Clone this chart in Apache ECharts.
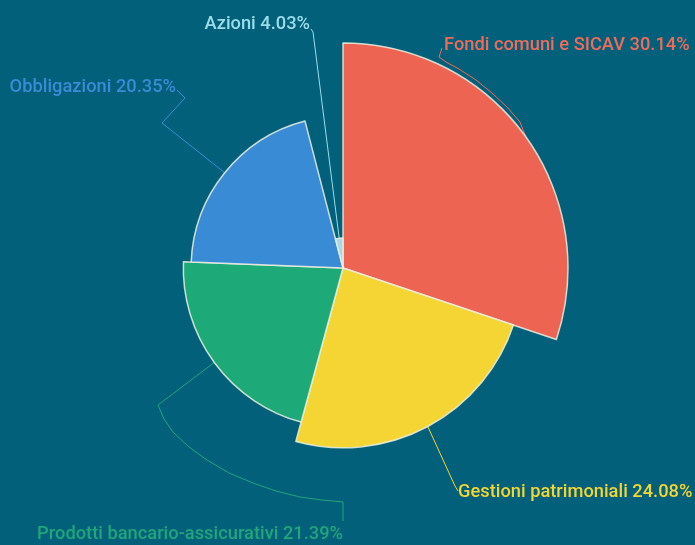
<!DOCTYPE html>
<html>
<head>
<meta charset="utf-8">
<script src="https://cdn.jsdelivr.net/npm/echarts@6/dist/echarts.min.js"></script>
<style>
  html, body { margin: 0; padding: 0; background: #03607a; }
  #chart { width: 695px; height: 545px; }
</style>
</head>
<body>
<div id="chart"></div>
<script>
// Portfolio composition by instrument (percent of total)
const categories = [
  'Fondi comuni e SICAV',
  'Gestioni patrimoniali',
  'Prodotti bancario-assicurativi',
  'Obbligazioni',
  'Azioni'
];
const shares = [30.14, 24.08, 21.39, 20.35, 4.03];

// Styling
const sliceColors = ['#ED6453', '#F4D534', '#1DAA78', '#3A8BD6', '#A9D8E6'];
const textColors  = ['#F26A58', '#F4D534', '#1FA67A', '#3A8BD6', '#9ADDE8'];

// Where each label sits: [x, y, align]
const labelSpots = [
  [444, 45, 'left'],
  [458, 492, 'left'],
  [343, 534, 'right'],
  [176, 87, 'right'],
  [310, 24, 'right']
];

// Leader-line bends after the point where the line leaves its slice
const leaderBends = [
  [[520, 122], [507, 107], [492, 93], [476, 80], [459, 69], [446, 62], [439, 57], [442, 48]],
  [[455, 486], [458, 491]],
  [[158, 405], [164, 419], [173, 432], [189, 447], [207, 460], [229, 473], [253, 483],
   [276, 491], [300, 497], [322, 500], [343, 502], [343, 521]],
  [[162, 123], [185, 98], [177, 90]],
  [[313, 32], [311, 29]]
];

const chart = echarts.init(document.getElementById('chart'), null, { renderer: 'canvas' });

const data = categories.map((name, i) => ({
  name: name,
  value: shares[i],
  itemStyle: { color: sliceColors[i] },
  label: { color: textColors[i] },
  labelLine: { lineStyle: { color: textColors[i] } }
}));

chart.setOption({
  backgroundColor: '#03607a',
  animation: false,
  series: [{
    type: 'pie',
    roseType: 'radius',
    startAngle: 90,
    clockwise: true,
    center: [343, 268],
    radius: [0, 225],
    data: data,
    itemStyle: {
      borderColor: 'rgba(235,240,225,0.85)',
      borderWidth: 1.5
    },
    label: {
      show: true,
      fontFamily: 'Roboto',
      fontSize: 18.3,
      fontWeight: 500,
      overflow: 'none',
      formatter: p => p.name + ' ' + p.value.toFixed(2) + '%'
    },
    labelLine: {
      show: true,
      length: 20,
      length2: 0,
      smooth: false,
      lineStyle: { width: 1 }
    },
    labelLayout: function (params) {
      const i = params.dataIndex;
      const s = labelSpots[i];
      const start = params.labelLinePoints ? params.labelLinePoints[0] : null;
      const out = { x: s[0], y: s[1], align: s[2], verticalAlign: 'middle' };
      if (start) {
        out.labelLinePoints = [start].concat(leaderBends[i]);
      }
      return out;
    }
  }]
});
</script>
</body>
</html>
